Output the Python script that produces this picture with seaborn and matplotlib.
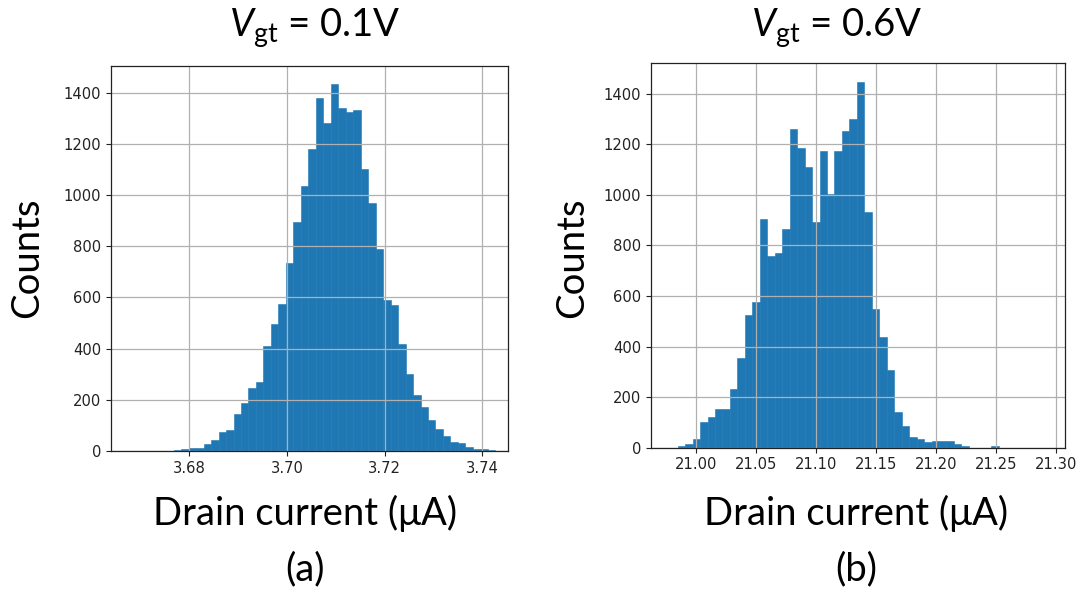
import numpy as np
import pandas as pd
import matplotlib
matplotlib.use("Agg")
import matplotlib.pyplot as plt
import seaborn as sns

# Drain-current histograms (counts per bin) for two gate overdrive voltages
counts_a = [4, 6, 13, 13, 26, 42, 73, 82, 146, 186, 245, 271, 411, 496, 576,
            736, 895, 1033, 1180, 1379, 1281, 1432, 1339, 1322, 1332, 1102,
            967, 789, 590, 570, 418, 299, 219, 173, 121, 87, 60, 35, 33, 14,
            7, 6, 5]
range_a = (3.6768, 3.7427)          # µA, outer bin edges
xlim_a = (3.6639, 3.7453)
xticks_a = [3.68, 3.70, 3.72, 3.74]

counts_b = [0, 7, 14, 33, 103, 122, 155, 155, 234, 355, 524, 577, 905, 757,
            771, 864, 1260, 1186, 1112, 891, 1173, 1005, 1173, 1252, 1299,
            1448, 932, 550, 436, 307, 142, 87, 41, 34, 21, 28, 28, 28, 14, 7,
            0, 0, 0, 7, 0, 0, 0, 0, 0, 0]
range_b = (20.9785, 21.2899)
xlim_b = (20.9625, 21.3078)
xticks_b = [21.00, 21.05, 21.10, 21.15, 21.20, 21.25, 21.30]

yticks = [0, 200, 400, 600, 800, 1000, 1200, 1400]

titles = [r"$V_{\mathrm{gt}}$ = 0.1V", r"$V_{\mathrm{gt}}$ = 0.6V"]
panel_tags = ["(a)", "(b)"]
xlabel = "Drain current (μA)"
ylabel = "Counts"

W, H = 1081, 592
plt.rcParams["mathtext.fontset"] = "custom"
plt.rcParams["mathtext.rm"] = "Lato"
plt.rcParams["mathtext.it"] = "Lato:italic"
big_font = dict(family="Lato", fontsize=27.5, color="black")

fig = plt.figure(figsize=(W / 100, H / 100), dpi=100)
ax_a = fig.add_axes([110.7 / W, 1 - 451 / H, 397.3 / W, 385 / H])
ax_b = fig.add_axes([651 / W, 1 - 447.7 / H, 414 / W, 384.4 / H])


def draw_hist(ax, counts, rng, xlim, xticks):
    edges = np.linspace(rng[0], rng[1], len(counts) + 1)
    centers = 0.5 * (edges[:-1] + edges[1:])
    df = pd.DataFrame({"current": centers, "count": counts})
    sns.histplot(data=df, x="current", weights="count", bins=edges.tolist(),
                 stat="count", color="#1f77b4", alpha=1,
                 edgecolor="#1f77b4", linewidth=0.4, ax=ax)
    ax.set_xlim(*xlim)
    ax.set_xticks(xticks)
    ax.set_xticklabels([f"{t:.2f}" for t in xticks])
    ax.set_yticks(yticks)
    ax.set_xlabel("")
    ax.set_ylabel("")
    ax.grid(True, color="#b0b0b0", linewidth=0.9)
    ax.set_axisbelow("line")
    ax.tick_params(labelsize=10.6, colors="#222222", length=3.5, width=0.8)
    for s in ax.spines.values():
        s.set_color("#222222")
        s.set_linewidth(0.9)


draw_hist(ax_a, counts_a, range_a, xlim_a, xticks_a)
draw_hist(ax_b, counts_b, range_b, xlim_b, xticks_b)

# Panel annotations
for cx, tx, title, tag, ylx in [(305, 315, titles[0], panel_tags[0], 27),
                                (856, 837, titles[1], panel_tags[1], 572)]:
    fig.text(tx / W, 1 - 37 / H, title, ha="center", va="baseline", **big_font)
    fig.text(cx / W, 1 - 525 / H, xlabel, ha="center", va="baseline", **big_font)
    fig.text(cx / W, 1 - 580 / H, tag, ha="center", va="baseline", **big_font)
    fig.text(ylx / W, 1 - 258 / H, ylabel, ha="center", va="center",
             rotation=90, **big_font)

fig.savefig("out.png", dpi=100, facecolor="white")
